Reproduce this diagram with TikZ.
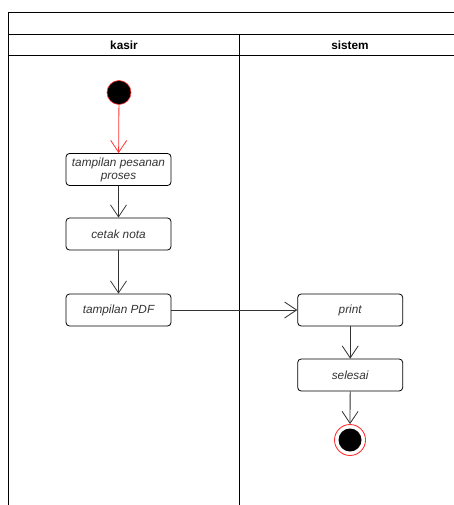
\documentclass[tikz,border=0pt]{standalone}
\usepackage{fontspec}
\setmainfont{Liberation Sans}
\usetikzlibrary{arrows.meta}
\definecolor{edge}{HTML}{333333}
\definecolor{startred}{HTML}{FF3333}
\begin{document}
\begin{tikzpicture}[x=1pt,y=-1pt,
  lane/.style={draw=black,line width=0.9pt},
  action/.style={draw=black,line width=0.8pt,rounded corners=3.5pt,
    minimum width=105pt,minimum height=32pt,inner sep=1pt,
    align=center,font=\fontsize{11.8}{13}\selectfont\itshape,text=edge},
  header/.style={font=\fontsize{11.8}{13}\selectfont\bfseries},
  flow/.style={draw=edge,line width=0.8pt,
    -{Straight Barb[length=12pt,width=16pt,line width=0.8pt]}},
  startflow/.style={flow,draw=startred}]
  \useasboundingbox (0,0) rectangle (454,505);
  % swimlane frame
  \draw[lane] (8.7,505) -- (8.7,12.5) -- (454,12.5);
  \draw[lane] (8.7,34) -- (454,34);
  \draw[lane] (8.7,55.5) -- (454,55.5);
  \draw[lane] (239.7,34) -- (239.7,505);
  \node[header] (kasir) at (124,45) {kasir};
  \node[header] (sistem) at (350,45) {sistem};
  % kasir lane
  \node[circle,fill=black,draw=startred,line width=0.6pt,minimum size=24pt,inner sep=0pt] (start) at (119,92.5) {};
  \node[action] (pesanan) at (118.5,169.5) {tampilan pesanan\\proses};
  \node[action] (nota) at (118.5,234) {cetak nota};
  \node[action] (pdf) at (118.5,310) {tampilan PDF};
  % sistem lane
  \node[action] (print) at (350.2,310) {print};
  \node[action] (selesai) at (350.2,375) {selesai};
  \node[circle,draw=startred,line width=0.9pt,fill=white,minimum size=31pt,inner sep=0pt] (end) at (350,440) {};
  \node[circle,fill=black,minimum size=23pt,inner sep=0pt] (endcore) at (end.center) {};
  % transitions
  \draw[startflow] (start) -- (pesanan);
  \draw[flow] (pesanan) -- (nota);
  \draw[flow] (nota) -- (pdf);
  \draw[flow] (pdf) -- (print);
  \draw[flow] (print) -- (selesai);
  \draw[flow] (selesai) -- (end);
\end{tikzpicture}
\end{document}
